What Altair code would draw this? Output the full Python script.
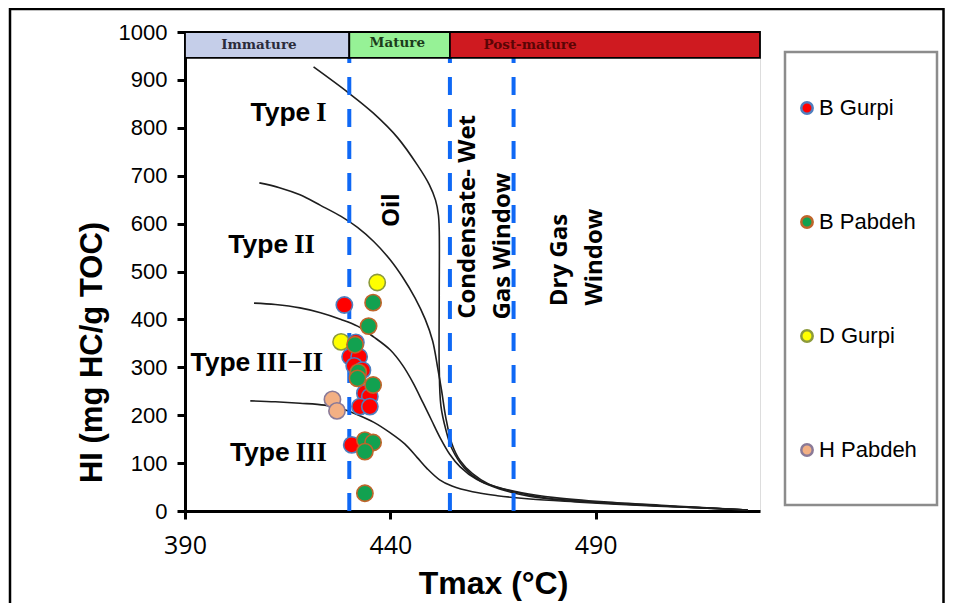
import altair as alt
import pandas as pd

# ---------------- data ----------------
# maturity zones on top band
zone_names = ["Immature", "Mature", "Post-mature"]
zone_start = [390, 430, 454.5]
zone_end = [430, 454.5, 530]
zone_fill = ["#c5cee9", "#96f296", "#cf1a20"]
zone_text_color = ["#2b2b3b", "#1c3c1c", "#5a0505"]
zone_label_T = [408, 441.7, 474]
zone_label_HI = [973, 978, 973]
band_bottom = 946
band_top = 1000

# window limits (dashed lines)
window_limits = [430, 454.5, 470]

# kerogen type curves (Tmax, HI)
type1_T = [421.3, 429.8, 435.8, 441.8, 446.6, 449.5, 451.0, 451.7, 451.9, 451.9, 451.9, 452.3, 453.5, 455, 458, 462, 467, 472, 480, 495, 510, 527]
type1_HI = [927, 873, 831, 779, 722, 681, 649, 618, 587, 450, 300, 220, 170, 130, 90, 62, 45, 34, 24, 16, 9, 2]
type2_T = [408.1, 413, 418, 423, 428, 432, 436, 440, 443, 446, 448.5, 450.3, 451.5, 452.5, 453.5, 455, 457, 460, 464, 470, 478, 490, 505, 527]
type2_HI = [685, 675, 660, 638, 615, 592, 562, 524, 488, 445, 400, 355, 300, 250, 195, 140, 105, 78, 56, 40, 27, 18, 11, 2]
type32_T = [406.8, 412, 418, 423, 428, 432, 436, 440, 443, 445.5, 448, 450, 452, 454.5, 457, 461, 466, 472, 480, 492, 508, 527]
type32_HI = [434, 431, 424, 414, 400, 386, 363, 336, 304, 268, 225, 190, 155, 118, 92, 66, 50, 38, 28, 19, 11, 2]
type3_T = [405.9, 412, 418, 424, 428, 432, 436, 440, 443.5, 446.5, 449, 452, 455, 460, 466, 474, 485, 500, 515, 527]
type3_HI = [230, 228, 225, 221, 214, 201, 185, 163, 140, 112, 88, 65, 52, 40, 32, 25, 19, 12, 7, 2]

# samples
dgurpi_T = [436.8, 428.0]
dgurpi_HI = [477, 353]
hpabdeh_T = [425.9, 427.0]
hpabdeh_HI = [233, 209]
bgurpi_T = [428.8, 431.6, 430.2, 432.4, 431.2, 433.2, 432.0, 433.8, 435.0, 432.6, 435.0, 430.6]
bgurpi_HI = [430, 352, 322, 322, 303, 294, 283, 246, 239, 218, 218, 138]
bpabdeh_T = [435.8, 434.7, 431.4, 432.2, 432.0, 435.8, 433.8, 435.8, 433.8, 433.8]
bpabdeh_HI = [435, 386, 347, 290, 277, 263, 148, 143, 124, 37]

sample_names = ["B Gurpi", "B Pabdeh", "D Gurpi", "H Pabdeh"]
sample_fill = ["#ff0000", "#12a150", "#ffff00", "#f3b084"]
sample_stroke = ["#4f7fbf", "#c0652b", "#8c9a3c", "#8a7a98"]

# region labels: word "Type" + roman numeral, anchored at the junction between them
type_word = ["Type", "Type", "Type", "Type"]
type_numeral = ["I", "II", "III−II", "III"]
type_label_T = [421.0, 415.6, 406.4, 416.0]
type_label_HI = [831, 555, 309, 121]

window_labels = ["Oil", "Condensate- Wet", "Gas Window", "Dry Gas", "Window"]
window_label_T = [440.3, 459.0, 467.4, 481.4, 489.8]
window_label_HI = [628, 614, 553, 524, 530]

# ---------------- tables ----------------
curves = pd.concat([
    pd.DataFrame({"T": type1_T, "HI": type1_HI, "curve": "I", "i": range(len(type1_T))}),
    pd.DataFrame({"T": type2_T, "HI": type2_HI, "curve": "II", "i": range(len(type2_T))}),
    pd.DataFrame({"T": type32_T, "HI": type32_HI, "curve": "III-II", "i": range(len(type32_T))}),
    pd.DataFrame({"T": type3_T, "HI": type3_HI, "curve": "III", "i": range(len(type3_T))}),
])

samples = pd.concat([
    pd.DataFrame({"T": dgurpi_T, "HI": dgurpi_HI, "sample": "D Gurpi"}),
    pd.DataFrame({"T": hpabdeh_T, "HI": hpabdeh_HI, "sample": "H Pabdeh"}),
    pd.DataFrame({"T": bgurpi_T, "HI": bgurpi_HI, "sample": "B Gurpi"}),
    pd.DataFrame({"T": bpabdeh_T, "HI": bpabdeh_HI, "sample": "B Pabdeh"}),
]).reset_index(drop=True)
samples["o"] = range(len(samples))

zones = pd.DataFrame({
    "T": zone_start, "T2": zone_end,
    "HI": [band_bottom] * 3, "HI2": [band_top] * 3,
    "zone": zone_names, "fillc": zone_fill,
})
zone_txt = pd.DataFrame({"T": zone_label_T, "HI": zone_label_HI, "txt": zone_names, "c": zone_text_color})
rules = pd.DataFrame({"T": window_limits, "HI": [0] * 3, "HI2": [band_bottom] * 3})
tlab = pd.DataFrame({"T": type_label_T, "HI": type_label_HI, "word": type_word, "num": type_numeral})
wlab = pd.DataFrame({"T": window_label_T, "HI": window_label_HI, "txt": window_labels})

# ---------------- encodings ----------------
xs = alt.Scale(domain=[390, 530], nice=False, zero=False)
ys = alt.Scale(domain=[0, 1000], nice=False)
xax = alt.Axis(values=[390, 440, 490], grid=False, format="d", labelFlush=False,
               labelFont="Open Sans", labelFontSize=25,
               labelPadding=14, tickSize=8, tickWidth=3, domainWidth=3, domainColor="black",
               tickColor="black", labelColor="black",
               titleFont="Liberation Sans", titleFontSize=32, titleFontWeight="bold",
               titleX=308, titleY=72, titleBaseline="middle", titleColor="black")
yax = alt.Axis(values=list(range(0, 1001, 100)), grid=False, format="d", labelFlush=False,
               labelFont="Liberation Sans",
               labelFontSize=22, labelPadding=10, tickSize=8, tickWidth=3, domainWidth=3,
               domainColor="black", tickColor="black", labelColor="black",
               titleFont="Liberation Sans", titleFontSize=31, titleFontWeight="bold",
               titleX=-93, titleY=320, titleBaseline="middle", titleAlign="center",
               titleAngle=270, titleColor="black")
X = alt.X("T:Q", scale=xs, axis=xax, title="Tmax (°C)")
Y = alt.Y("HI:Q", scale=ys, axis=yax, title="HI (mg HC/g TOC)")

lines = alt.Chart(curves).mark_line(color="#1e1e1e", strokeWidth=1.6, interpolate="catmull-rom").encode(
    x=X, y=Y, detail="curve:N", order="i:Q")

band = alt.Chart(zones).mark_rect(stroke="black", strokeWidth=1.8).encode(
    x=X, x2="T2", y=Y, y2="HI2",
    fill=alt.Fill("fillc:N", scale=None))

band_text = alt.Chart(zone_txt).mark_text(font="DejaVu Serif", fontWeight="bold", fontSize=13.5,
                                          baseline="middle").encode(
    x=X, y=Y, text="txt:N", color=alt.Color("c:N", scale=None))

dash = alt.Chart(rules).mark_rule(color="#0f68f5", strokeWidth=4, strokeDash=[18, 14]).encode(
    x=X, y=Y, y2="HI2")

leg = alt.Legend(title=None, orient="none", legendX=611, legendY=65, labelFont="Liberation Sans",
                 labelFontSize=22, labelColor="black", rowPadding=92, symbolSize=130,
                 symbolStrokeWidth=2.5, labelOffset=1, padding=0, symbolType="circle")
pts = alt.Chart(samples).mark_point(filled=True, size=265, strokeWidth=1.6, opacity=1).encode(
    x=X, y=Y,
    fill=alt.Fill("sample:N", scale=alt.Scale(domain=sample_names, range=sample_fill), legend=leg),
    stroke=alt.Stroke("sample:N", scale=alt.Scale(domain=sample_names, range=sample_stroke), legend=leg),
    order="o:Q")

type_word_text = alt.Chart(tlab).mark_text(font="Liberation Sans", fontWeight="bold", fontSize=26.5,
                                           align="right", dx=-2, color="black").encode(
    x=X, y=Y, text="word:N")
type_num_text = alt.Chart(tlab).mark_text(font="Liberation Serif", fontWeight="bold", fontSize=26.5,
                                          align="left", dx=4, color="black").encode(
    x=X, y=Y, text="num:N")
win_text = alt.Chart(wlab).mark_text(font="Open Sans", fontWeight="bold", fontSize=24, angle=270,
                                     color="black").encode(x=X, y=Y, text="txt:N")

one = pd.DataFrame({"a": [0]})
frame = alt.Chart(one).mark_rect(filled=False, stroke="black", strokeWidth=2.5).encode(
    x=alt.value(-175), x2=alt.value(758.5), y=alt.value(-23), y2=alt.value(620))
legbox = alt.Chart(one).mark_rect(filled=False, stroke="#8c8c8c", strokeWidth=2.5).encode(
    x=alt.value(600), x2=alt.value(752), y=alt.value(20), y2=alt.value(473))

chart = alt.layer(frame, legbox, lines, dash, band, band_text, pts,
                  type_word_text, type_num_text, win_text).properties(
    width=575, height=479,
    autosize=alt.AutoSizeParams(type="none"),
    padding={"left": 177, "top": 24, "right": 185, "bottom": 92},
).configure_view(stroke="#9a9a9a", strokeWidth=1.5).configure(background="white")

chart.save("out.html", embed_options={"renderer": "svg", "actions": False})
